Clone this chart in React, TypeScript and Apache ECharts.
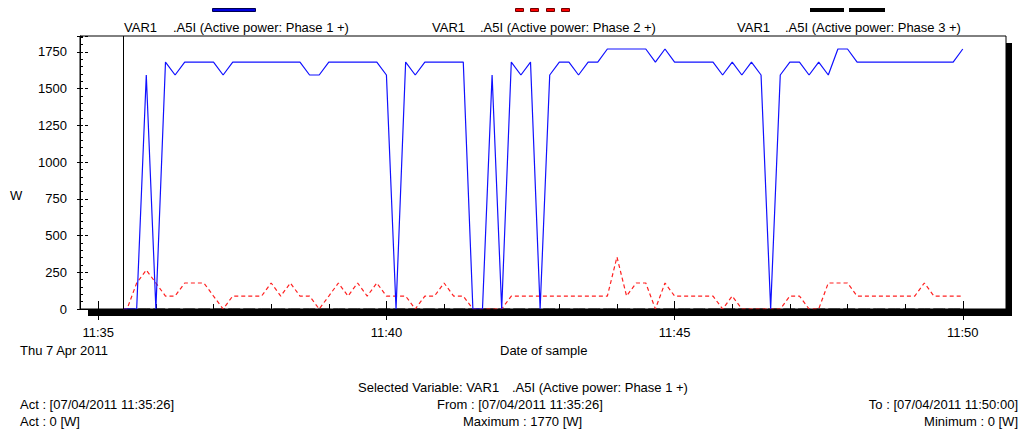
import React, { useEffect, useRef } from "react";
import * as echarts from "echarts";

// Sample times (10 s sampling after the first sample)
const sampleTimes = [
  "11:35:26", "11:35:30", "11:35:40", "11:35:50",
  "11:36:00", "11:36:10", "11:36:20", "11:36:30", "11:36:40", "11:36:50",
  "11:37:00", "11:37:10", "11:37:20", "11:37:30", "11:37:40", "11:37:50",
  "11:38:00", "11:38:10", "11:38:20", "11:38:30", "11:38:40", "11:38:50",
  "11:39:00", "11:39:10", "11:39:20", "11:39:30", "11:39:40", "11:39:50",
  "11:40:00", "11:40:10", "11:40:20", "11:40:30", "11:40:40", "11:40:50",
  "11:41:00", "11:41:10", "11:41:20", "11:41:30", "11:41:40", "11:41:50",
  "11:42:00", "11:42:10", "11:42:20", "11:42:30", "11:42:40", "11:42:50",
  "11:43:00", "11:43:10", "11:43:20", "11:43:30", "11:43:40", "11:43:50",
  "11:44:00", "11:44:10", "11:44:20", "11:44:30", "11:44:40", "11:44:50",
  "11:45:00", "11:45:10", "11:45:20", "11:45:30", "11:45:40", "11:45:50",
  "11:46:00", "11:46:10", "11:46:20", "11:46:30", "11:46:40", "11:46:50",
  "11:47:00", "11:47:10", "11:47:20", "11:47:30", "11:47:40", "11:47:50",
  "11:48:00", "11:48:10", "11:48:20", "11:48:30", "11:48:40", "11:48:50",
  "11:49:00", "11:49:10", "11:49:20", "11:49:30", "11:49:40", "11:49:50",
  "11:50:00",
];

// Active power: Phase 1 + [W]
const phase1 = [
  0,
  0, 0, 1593,
  0, 1681, 1593, 1681, 1681, 1681,
  1681, 1593, 1681, 1681, 1681, 1681,
  1681, 1681, 1681, 1681, 1593, 1593,
  1681, 1681, 1681, 1681, 1681, 1681,
  1593, 0, 1681, 1593, 1681, 1681,
  1681, 1681, 1681, 0, 0, 1593,
  0, 1681, 1593, 1681, 0, 1593,
  1681, 1681, 1593, 1681, 1681, 1770,
  1770, 1770, 1770, 1770, 1681, 1770,
  1681, 1681, 1681, 1681, 1681, 1593,
  1681, 1593, 1681, 1593, 0, 1593,
  1681, 1681, 1593, 1681, 1593, 1770,
  1770, 1681, 1681, 1681, 1681, 1681,
  1681, 1681, 1681, 1681, 1681, 1681,
  1770,
];

// Active power: Phase 2 + [W]
const phase2 = [
  0,
  0, 177, 265,
  177, 88, 88, 177, 177, 177,
  88, 0, 88, 88, 88, 88,
  177, 88, 177, 88, 88, 0,
  88, 177, 88, 177, 88, 177,
  88, 88, 88, 0, 88, 88,
  177, 88, 88, 0, 0, 0,
  0, 88, 88, 88, 88, 88,
  88, 88, 88, 88, 88, 88,
  354, 88, 177, 177, 0, 177,
  88, 88, 88, 88, 88, 0,
  88, 0, 0, 0, 0, 0,
  88, 88, 0, 0, 177, 177,
  177, 88, 88, 88, 88, 88,
  88, 88, 177, 88, 88, 88,
  88,
];

// Active power: Phase 3 + [W]
const phase3 = [
  0,
  0, 0, 0,
  0, 0, 0, 0, 0, 0,
  0, 0, 0, 0, 0, 0,
  0, 0, 0, 0, 0, 0,
  0, 0, 0, 0, 0, 0,
  0, 0, 0, 0, 0, 0,
  0, 0, 0, 0, 0, 0,
  0, 0, 0, 0, 0, 0,
  0, 0, 0, 0, 0, 0,
  0, 0, 0, 0, 0, 0,
  0, 0, 0, 0, 0, 0,
  0, 0, 0, 0, 0, 0,
  0, 0, 0, 0, 0, 0,
  0, 0, 0, 0, 0, 0,
  0, 0, 0, 0, 0, 0,
  0,
];

const majorTickLabels = ["11:35", "11:40", "11:45", "11:50"];
const minuteTicks = [
  "11:35", "11:36", "11:37", "11:38", "11:39", "11:40", "11:41", "11:42",
  "11:43", "11:44", "11:45", "11:46", "11:47", "11:48", "11:49", "11:50",
];
const axisStart = "11:34:41";
const axisEnd = "11:50:45";
const cursorTime = "11:35:26";
const yMax = 1858.5;
const yInterval = 250;

const seriesNames = [
  ".A5I (Active power: Phase 1 +)",
  ".A5I (Active power: Phase 2 +)",
  ".A5I (Active power: Phase 3 +)",
];

const toSec = (s: string) => {
  const p = s.split(":").map(Number);
  return p[0] * 3600 + p[1] * 60 + (p[2] || 0);
};
const fmtTime = (v: number) => {
  const h = Math.floor(v / 3600);
  const m = Math.floor((v % 3600) / 60);
  return `${h}:${String(m).padStart(2, "0")}`;
};

const FONT = "Liberation Sans, Arial, sans-serif";

const txt = (text: string, x: number, y: number, align: string = "left") => ({
  type: "text",
  x,
  y,
  style: {
    text,
    fill: "#000",
    fontSize: 13,
    fontFamily: FONT,
    align,
    verticalAlign: "middle",
  },
});

export default function App() {
  const ref = useRef<HTMLDivElement>(null);

  useEffect(() => {
    document.body.style.margin = "0";
    if (!ref.current) return;
    const chart = echarts.init(ref.current, null, { renderer: "svg" });

    const xMin = toSec(axisStart);
    const xMax = toSec(axisEnd);
    const minorX = minuteTicks.map(toSec);
    const majorX = majorTickLabels.map(toSec);

    const mk = (vals: number[]) => sampleTimes.map((t, i) => [toSec(t), vals[i]]);

    const baseX = {
      type: "value",
      min: xMin,
      max: xMax,
      position: "bottom",
      offset: 0,
      splitLine: { show: false },
    };

    const option: any = {
      animation: false,
      textStyle: { fontFamily: FONT },
      grid: {
        left: 80,
        top: 36,
        right: 23,
        bottom: 126,
        show: true,
        borderColor: "#000",
        borderWidth: 1,
        backgroundColor: "#fff",
        containLabel: false,
        outerBoundsMode: "none",
      },
      xAxis: [
        {
          ...baseX,
          axisLine: { show: true, onZero: false, lineStyle: { color: "#000", width: 1 } },
          axisTick: { show: true, inside: true, length: 5, customValues: minorX, lineStyle: { color: "#000" } },
          axisLabel: {
            show: true,
            customValues: majorX,
            formatter: (v: number) => fmtTime(v),
            color: "#000",
            fontSize: 13,
            fontFamily: FONT,
            margin: 17,
          },
        },
        {
          ...baseX,
          axisLine: { show: false },
          axisLabel: { show: false },
          axisTick: { show: true, inside: true, length: 8, customValues: majorX, lineStyle: { color: "#000" } },
        },
        {
          ...baseX,
          axisLine: { show: false },
          axisLabel: { show: false },
          axisTick: { show: true, inside: false, length: 11, customValues: majorX, lineStyle: { color: "#000" } },
        },
      ],
      yAxis: [
        {
          type: "value",
          min: 0,
          max: yMax,
          interval: yInterval,
          position: "left",
          axisLine: { show: true, lineStyle: { color: "#000" } },
          axisTick: { show: true, inside: true, length: 8, lineStyle: { color: "#000", type: [3, 2] } },
          minorTick: { show: true, splitNumber: 5, length: 3, lineStyle: { color: "#000" } },
          splitLine: { show: false },
          minorSplitLine: { show: false },
          axisLabel: {
            color: "#000",
            fontSize: 13,
            fontFamily: FONT,
            margin: 13,
            showMaxLabel: false,
            formatter: (v: number) => (v % yInterval === 0 ? String(v) : ""),
          },
        },
        {
          type: "value",
          min: 0,
          max: yMax,
          interval: yInterval,
          position: "left",
          offset: 0,
          axisLine: { show: false },
          axisTick: { show: true, inside: false, length: 3, lineStyle: { color: "#000" } },
          axisLabel: { show: false },
          splitLine: { show: false },
        },
      ],
      series: [
        {
          type: "line",
          name: seriesNames[0],
          xAxisIndex: 0,
          yAxisIndex: 0,
          data: mk(phase1),
          symbol: "none",
          lineStyle: { color: "#1010ff", width: 1.2 },
          itemStyle: { color: "#1010ff" },
          z: 4,
          markLine: {
            silent: true,
            symbol: ["none", "none"],
            label: { show: false },
            lineStyle: { color: "#000", type: "solid", width: 1 },
            data: [{ xAxis: toSec(cursorTime) }],
          },
        },
        {
          type: "line",
          name: seriesNames[1],
          xAxisIndex: 0,
          yAxisIndex: 0,
          data: mk(phase2),
          symbol: "none",
          lineStyle: { color: "#ff2020", width: 1.2, type: [4, 3] },
          itemStyle: { color: "#ff2020" },
          z: 3,
        },
        {
          type: "line",
          name: seriesNames[2],
          xAxisIndex: 0,
          yAxisIndex: 1,
          data: mk(phase3),
          symbol: "none",
          lineStyle: { color: "#000", width: 1, type: [12, 3] },
          itemStyle: { color: "#000" },
          z: 2,
        },
      ],
      graphic: [
        // frame shadow
        { type: "rect", shape: { x: 88, y: 309.5, width: 924, height: 6.5 }, style: { fill: "#000" }, z: 10 },
        { type: "rect", shape: { x: 1006, y: 43, width: 6, height: 273 }, style: { fill: "#000" }, z: 10 },
        // legend samples
        { type: "rect", shape: { x: 212.5, y: 8.5, width: 43, height: 3 }, style: { fill: "#0000e0", stroke: "#000050", lineWidth: 1 } },
        { type: "rect", shape: { x: 515.5, y: 8.5, width: 8, height: 3 }, style: { fill: "#ff0000", stroke: "#700000", lineWidth: 1 } },
        { type: "rect", shape: { x: 530.5, y: 8.5, width: 8, height: 3 }, style: { fill: "#ff0000", stroke: "#700000", lineWidth: 1 } },
        { type: "rect", shape: { x: 546.5, y: 8.5, width: 8, height: 3 }, style: { fill: "#ff0000", stroke: "#700000", lineWidth: 1 } },
        { type: "rect", shape: { x: 561.5, y: 8.5, width: 8, height: 3 }, style: { fill: "#ff0000", stroke: "#700000", lineWidth: 1 } },
        { type: "rect", shape: { x: 810, y: 8, width: 34, height: 4 }, style: { fill: "#000" } },
        { type: "rect", shape: { x: 849, y: 8, width: 36, height: 4 }, style: { fill: "#000" } },
        // legend texts
        txt("VAR1", 124, 27),
        txt(seriesNames[0], 173, 27),
        txt("VAR1", 432, 27),
        txt(seriesNames[1], 480, 27),
        txt("VAR1", 737, 27),
        txt(seriesNames[2], 785, 27),
        // axis names
        txt("W", 10, 195),
        txt("Thu 7 Apr 2011", 20, 350),
        txt("Date of sample", 500, 350),
        // status texts
        txt("Selected Variable: VAR1", 358, 387),
        txt(seriesNames[0], 512, 387),
        txt("Act : [07/04/2011 11:35:26]", 20, 404),
        txt("From : [07/04/2011 11:35:26]", 437, 404),
        txt("To : [07/04/2011 11:50:00]", 1018, 404, "right"),
        txt("Act : 0 [W]", 20, 421),
        txt("Maximum : 1770 [W]", 463, 421),
        txt("Minimum : 0 [W]", 1018, 421, "right"),
      ],
    };

    chart.setOption(option);
    return () => chart.dispose();
  }, []);

  return <div ref={ref} style={{ width: 1029, height: 435 }} />;
}
